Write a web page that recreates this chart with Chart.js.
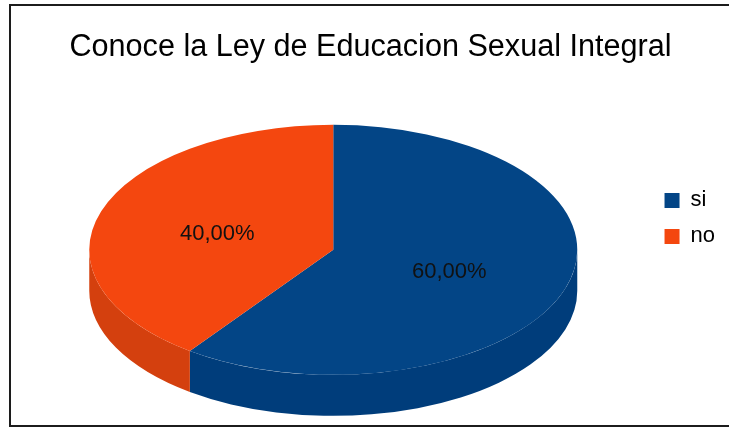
<!DOCTYPE html>
<html>
<head>
<meta charset="utf-8">
<script src="https://cdn.jsdelivr.net/npm/chart.js@4"></script>
<style>
html, body { margin: 0; padding: 0; background: #fff; overflow: hidden; }
#wrap { position: relative; width: 729px; height: 428px; overflow: hidden; }
.rule { position: absolute; background: #1c1c1c; }
#ruleTop { left: 9px; top: 4px; width: 720px; height: 2px; }
#ruleLeft { left: 9px; top: 4px; width: 2px; height: 423px; }
#ruleBottom { left: 9px; top: 425px; width: 720px; height: 2px; }
canvas { position: absolute; left: 0; top: 0; }
</style>
</head>
<body>
<div id="wrap">
  <div class="rule" id="ruleTop"></div>
  <div class="rule" id="ruleLeft"></div>
  <div class="rule" id="ruleBottom"></div>
  <canvas id="pie" width="729" height="428"></canvas>
</div>
<script>
// --- Data ---
const categories = ['si', 'no'];
const shares = [60, 40];
const topColors = ['#034586', '#f4470f'];
const sideColors = ['#003d7b', '#d4400e'];
const chartTitle = 'Conoce la Ley de Educacion Sexual Integral';

// --- Fake 3D look ---
const STRETCH = 1.952; // widen the round pie into an ellipse
const DEPTH = 41;      // thickness of the pie's side wall
const LABEL_NUDGE = 3; // percent labels sit a bit low in the original
const FONT = '"Liberation Sans", Arial, sans-serif';

const tiltPlugin = {
    id: 'tilt',
    beforeDatasetsDraw(chart) {
        const ctx = chart.ctx;
        const arcs = chart.getDatasetMeta(0).data;
        if (!arcs.length) return;
        const cx = arcs[0].x;
        ctx.save();
        ctx.translate(cx, 0);
        ctx.scale(STRETCH, 1);
        ctx.translate(-cx, 0);

        // side walls first, top face gets drawn over them by Chart.js
        arcs.forEach((arc, i) => {
            const { x, y, startAngle, endAngle, outerRadius } =
                arc.getProps(['x', 'y', 'startAngle', 'endAngle', 'outerRadius']);
            const a1 = Math.max(startAngle, 0);
            const a2 = Math.min(endAngle, Math.PI);
            if (a2 <= a1) return;
            ctx.beginPath();
            ctx.arc(x, y, outerRadius, a1, a2);
            ctx.arc(x, y + DEPTH, outerRadius, a2, a1, true);
            ctx.closePath();
            ctx.fillStyle = sideColors[i];
            ctx.fill();
        });
    },
    afterDatasetsDraw(chart) {
        const ctx = chart.ctx;
        ctx.restore();

        // percent labels
        const arcs = chart.getDatasetMeta(0).data;
        const total = shares.reduce((a, b) => a + b, 0);
        ctx.save();
        ctx.font = '22px ' + FONT;
        ctx.fillStyle = '#111';
        ctx.textAlign = 'center';
        ctx.textBaseline = 'middle';
        arcs.forEach((arc, i) => {
            const p = arc.tooltipPosition();
            const px = arc.x + (p.x - arc.x) * STRETCH;
            const txt = (shares[i] / total * 100).toFixed(2).replace('.', ',') + '%';
            ctx.fillText(txt, px, p.y + LABEL_NUDGE);
        });
        ctx.restore();
    }
};

new Chart(document.getElementById('pie'), {
    type: 'pie',
    data: {
        labels: categories,
        datasets: [{
            data: shares,
            backgroundColor: topColors,
            borderWidth: 0,
            radius: 125,
            hoverOffset: 0
        }]
    },
    options: {
        responsive: false,
        animation: false,
        layout: { padding: { left: 16, right: 4, top: 0, bottom: 28 } },
        plugins: {
            title: {
                display: true,
                text: chartTitle,
                color: '#000',
                font: { family: FONT, size: 30.6, weight: 'normal' },
                padding: { top: 29, bottom: 34 }
            },
            legend: {
                position: 'right',
                align: 'start',
                title: { display: true, text: '', padding: { top: 80, bottom: 81 } },
                labels: {
                    boxWidth: 15,
                    boxHeight: 15,
                    padding: 14,
                    color: '#000',
                    font: { family: FONT, size: 22 }
                }
            },
            tooltip: { enabled: false }
        }
    },
    plugins: [tiltPlugin]
});
</script>
</body>
</html>
